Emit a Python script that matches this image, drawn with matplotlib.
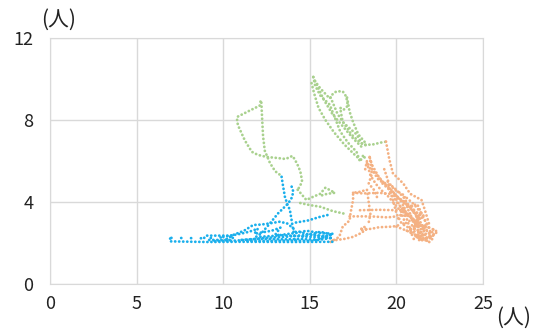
import matplotlib
matplotlib.use('Agg')
import matplotlib.pyplot as plt

plt.rcParams['font.family'] = ['Noto Sans CJK JP', 'DejaVu Sans']

# axis ticks
x_ticks = [0, 5, 10, 15, 20, 25]
y_ticks = [0, 4, 8, 12]
unit_label = '(人)'

# blue tracks
blue_x1 = [16.3, 14.0, 11.0, 9.0, 6.95, 6.9, 7.0]
blue_y1 = [2.06, 2.05, 2.06, 2.05, 2.08, 2.2, 2.25]
blue_x2 = [7.0, 8.0, 8.9, 10.5]
blue_y2 = [2.25, 2.24, 2.23, 2.3]
blue_x3 = [8.9, 9.0, 10.5, 10.6, 10.4, 9.0]
blue_y3 = [2.25, 2.36, 2.36, 2.28, 2.15, 2.15]
blue_x4 = [10.2, 10.56, 11.2, 11.73, 12.2, 12.7, 13.27, 13.7, 14.04, 14.3]
blue_y4 = [2.2, 2.39, 2.6, 2.88, 2.9, 2.96, 3.04, 2.95, 2.72, 2.4]
blue_x5 = [10.0, 11.0, 11.5, 12.0, 11.8, 12.8, 13.3, 13.0, 14.0, 15.0, 16.3, 15.5, 14.5, 13.5, 12.0, 11.0]
blue_y5 = [2.3, 2.45, 2.55, 2.7, 2.45, 2.6, 2.75, 2.4, 2.35, 2.3, 2.25, 2.15, 2.2, 2.18, 2.2, 2.15]
blue_x6 = [16.3, 15.5, 14.8, 14.3, 13.8, 13.0, 12.0]
blue_y6 = [2.45, 2.5, 2.6, 2.5, 2.45, 2.35, 2.3]
blue_x7 = [13.37, 13.45, 13.56, 13.7, 13.85, 13.95, 14.04, 14.15]
blue_y7 = [5.23, 4.8, 4.26, 3.9, 3.61, 3.1, 2.63, 2.15]
blue_x8 = [13.95, 14.05, 13.95, 13.75, 13.17, 12.7, 12.2, 11.8]
blue_y8 = [4.75, 4.5, 4.2, 3.93, 3.45, 2.96, 2.47, 2.25]
blue_x9 = [14.2, 14.9, 15.6, 16.2]
blue_y9 = [3.0, 3.1, 3.28, 3.4]
blue_x10 = [9.5, 10.8, 12.4, 13.6, 14.8, 16.0, 15.2, 14.0, 12.6, 11.2]
blue_y10 = [2.1, 2.12, 2.25, 2.3, 2.4, 2.35, 2.1, 2.12, 2.1, 2.1]
blue_x11 = [14.4, 15.0, 15.6, 16.3, 15.8, 15.0, 14.5]
blue_y11 = [2.55, 2.4, 2.55, 2.4, 2.3, 2.45, 2.3]

# green tracks
green_x1 = [12.15, 12.1, 11.5, 10.8, 10.8, 10.9, 11.25, 11.65, 12.0, 12.5, 13.1, 13.6, 14.0, 14.15, 14.3, 14.45, 14.55, 14.45, 14.3]
green_y1 = [8.9, 8.7, 8.45, 8.15, 7.9, 7.65, 7.0, 6.45, 6.3, 6.2, 6.15, 6.1, 6.25, 6.05, 5.8, 5.5, 5.05, 4.8, 4.6]
green_x2 = [12.2, 12.25, 12.3, 12.4, 12.7, 13.0, 13.4]
green_y2 = [8.85, 8.0, 7.2, 6.5, 5.9, 5.5, 5.25]
green_x3 = [14.3, 14.8, 15.2, 15.6, 15.9, 16.45, 16.0, 15.6]
green_y3 = [4.6, 4.1, 4.26, 4.4, 4.7, 4.45, 4.4, 4.3]
green_x4 = [14.45, 15.0, 15.6, 16.35, 16.9, 17.1]
green_y4 = [3.95, 3.85, 3.77, 3.55, 3.45, 3.4]
green_x5 = [15.2, 15.3, 15.6, 16.15, 16.35, 16.55, 16.9, 17.1, 17.2, 16.95, 16.75, 16.9, 17.3, 17.7, 18.05, 18.6, 19.1, 19.45]
green_y5 = [10.1, 9.9, 9.55, 9.05, 9.3, 9.4, 9.4, 9.15, 8.7, 8.5, 8.6, 7.9, 7.6, 7.3, 6.8, 6.8, 6.9, 6.95]
green_x6 = [15.2, 15.3, 15.6, 16.15, 16.5, 16.75, 17.2, 17.7, 17.9, 18.1, 18.2]
green_y6 = [10.1, 9.7, 9.2, 8.75, 8.0, 7.45, 6.9, 6.45, 5.97, 6.3, 6.1]
green_x7 = [15.1, 15.25, 15.5, 15.9, 16.4, 17.0, 17.6, 18.0]
green_y7 = [9.8, 9.3, 8.6, 8.0, 7.4, 6.8, 6.3, 6.0]
green_x8 = [15.3, 15.8, 16.3, 16.9, 17.5, 18.1]
green_y8 = [9.9, 9.0, 8.3, 7.7, 7.1, 6.6]
green_x9 = [17.15, 17.3, 17.5, 17.8, 18.2]
green_y9 = [9.1, 8.4, 7.9, 7.3, 6.9]
green_x10 = [16.2, 16.6, 17.0, 17.4, 17.9, 18.4]
green_y10 = [9.1, 8.3, 7.8, 7.3, 6.9, 6.7]

# orange tracks
orange_x1 = [18.45, 18.6, 19.0, 19.8, 20.4, 20.9, 21.5, 21.9, 22.3, 22.1, 21.7, 21.2, 20.8, 20.3, 20.0, 19.8, 19.6, 19.0, 18.6, 18.45]
orange_y1 = [6.2, 5.55, 5.05, 4.75, 4.25, 3.6, 3.3, 2.75, 2.6, 2.35, 2.2, 2.3, 2.7, 2.95, 3.45, 4.1, 4.6, 5.2, 5.8, 6.2]
orange_x2 = [19.4, 19.6, 19.8, 20.4, 20.8, 21.45, 21.65, 21.9]
orange_y2 = [6.95, 6.05, 5.4, 4.9, 4.4, 4.1, 3.6, 2.9]
orange_x3 = [19.2, 20.0, 20.6, 20.2, 21.0, 21.4, 20.6, 21.6, 21.0, 22.0, 21.2, 20.4, 20.9, 21.8]
orange_y3 = [4.9, 4.3, 3.9, 3.3, 3.5, 3.0, 2.6, 2.9, 2.2, 2.5, 3.9, 3.7, 2.4, 2.1]
orange_x4 = [17.9, 19.0, 20.0, 20.95]
orange_y4 = [3.6, 3.62, 3.6, 3.6]
orange_x5 = [17.5, 18.1, 19.0, 19.6]
orange_y5 = [4.45, 4.42, 4.45, 4.4]
orange_x6 = [16.2, 16.7, 16.9, 17.3, 17.35, 17.5, 17.5, 17.9, 18.3, 18.4, 18.5, 18.4]
orange_y6 = [2.05, 2.3, 2.8, 3.1, 3.45, 4.1, 4.45, 4.5, 4.6, 4.0, 3.4, 3.0]
orange_x7 = [16.3, 17.0, 17.5, 18.0, 18.3, 18.1, 17.9, 18.6, 19.0, 19.8, 20.3]
orange_y7 = [2.12, 2.2, 2.3, 2.5, 2.72, 2.8, 2.63, 2.7, 2.77, 2.8, 2.9]
orange_x8 = [17.3, 18.5, 19.5, 20.0]
orange_y8 = [3.3, 3.3, 3.25, 3.3]
orange_x9 = [18.3, 18.5, 18.8, 19.1, 19.5, 19.9, 20.3]
orange_y9 = [5.9, 5.3, 4.9, 4.6, 4.3, 3.9, 3.5]
orange_x10 = [19.8, 20.3, 20.9, 21.3, 21.1, 21.7, 21.5, 22.1, 21.8]
orange_y10 = [4.5, 4.0, 3.7, 3.4, 2.9, 2.8, 2.4, 2.55, 2.25]
orange_x11 = [20.1, 20.5, 20.4, 21.0, 20.8, 21.5, 21.3, 22.2]
orange_y11 = [3.2, 3.6, 2.9, 3.2, 2.5, 2.7, 2.1, 2.4]
orange_x12 = [19.9, 20.2, 20.7, 21.2, 21.6, 21.9, 22.2]
orange_y12 = [4.3, 3.8, 3.3, 3.0, 2.7, 2.5, 2.7]
orange_x13 = [18.6, 19.2, 19.7, 20.1, 20.6, 21.0, 21.4]
orange_y13 = [5.6, 5.0, 4.6, 4.2, 3.9, 3.5, 3.1]
orange_x14 = [20.9, 21.2, 21.0, 21.4, 21.2, 21.7, 21.4, 21.9]
orange_y14 = [3.8, 3.2, 2.6, 3.5, 2.3, 2.9, 2.1, 2.3]
orange_x15 = [18.2, 18.3, 18.6, 18.4, 18.7, 18.9]
orange_y15 = [5.6, 6.0, 5.4, 4.9, 4.6, 4.2]
orange_x16 = [19.5, 19.9, 20.5, 20.3, 20.9, 21.3, 21.9, 22.3]
orange_y16 = [5.0, 4.6, 4.3, 3.6, 3.3, 2.5, 2.2, 2.5]
orange_x17 = [20.0, 20.6, 21.1, 21.5, 21.9, 22.2]
orange_y17 = [2.8, 2.6, 2.4, 2.2, 2.05, 2.3]
orange_x18 = [19.3, 19.5, 19.7, 20.1, 20.7, 21.3, 21.8]
orange_y18 = [5.6, 5.1, 4.4, 3.9, 3.4, 2.9, 2.6]
orange_x19 = [20.6, 21.0, 21.3, 21.6, 21.0, 20.7]
orange_y19 = [4.2, 3.9, 3.6, 3.3, 3.0, 3.4]

blue_tracks = [(blue_x1, blue_y1), (blue_x3, blue_y3), (blue_x4, blue_y4),
               (blue_x5, blue_y5), (blue_x6, blue_y6), (blue_x7, blue_y7),
               (blue_x8, blue_y8), (blue_x9, blue_y9), (blue_x10, blue_y10),
               (blue_x11, blue_y11)]
green_tracks = [(green_x1, green_y1), (green_x2, green_y2), (green_x3, green_y3),
                (green_x4, green_y4), (green_x5, green_y5), (green_x6, green_y6),
                (green_x7, green_y7), (green_x8, green_y8), (green_x9, green_y9),
                (green_x10, green_y10)]
orange_tracks = [(orange_x1, orange_y1), (orange_x2, orange_y2), (orange_x3, orange_y3),
                 (orange_x4, orange_y4), (orange_x5, orange_y5), (orange_x6, orange_y6),
                 (orange_x7, orange_y7), (orange_x8, orange_y8), (orange_x9, orange_y9),
                 (orange_x10, orange_y10), (orange_x11, orange_y11), (orange_x12, orange_y12),
                 (orange_x13, orange_y13), (orange_x14, orange_y14), (orange_x15, orange_y15),
                 (orange_x16, orange_y16), (orange_x17, orange_y17), (orange_x18, orange_y18),
                 (orange_x19, orange_y19)]

fig = plt.figure(figsize=(5.39, 3.31), dpi=100)
ax = fig.add_axes([0.093, 0.142, 0.803, 0.743])

dots = (0, (0.05, 1.4))
for tx, ty in green_tracks:
    ax.plot(tx, ty, color='#A9D18E', lw=2.0, ls=dots, dash_capstyle='round')
for tx, ty in orange_tracks:
    ax.plot(tx, ty, color='#F4B183', lw=2.0, ls=dots, dash_capstyle='round')
for tx, ty in blue_tracks:
    ax.plot(tx, ty, color='#1AAFEC', lw=2.0, ls=dots, dash_capstyle='round')
# sparse dotted start of the blue track
ax.plot(blue_x2, blue_y2, color='#1AAFEC', lw=2.0, ls=(0, (0.05, 3.5)), dash_capstyle='round')

ax.set_xlim(0, 25)
ax.set_ylim(0, 12)
ax.set_xticks(x_ticks)
ax.set_yticks(y_ticks)
ax.grid(True, color='#D9D9D9', lw=1)
ax.set_axisbelow(True)
for s in ax.spines.values():
    s.set_color('#D9D9D9')
ax.tick_params(length=0, labelsize=13, colors='#222222')
ax.tick_params(axis='x', pad=8)
ax.tick_params(axis='y', pad=12)

fig.text(0.108, 0.94, unit_label, fontsize=15, ha='center', va='center', color='#222222')
fig.text(0.952, 0.04, unit_label, fontsize=15, ha='center', va='center', color='#222222')

plt.savefig('out.png', dpi=100)
print('saved')
